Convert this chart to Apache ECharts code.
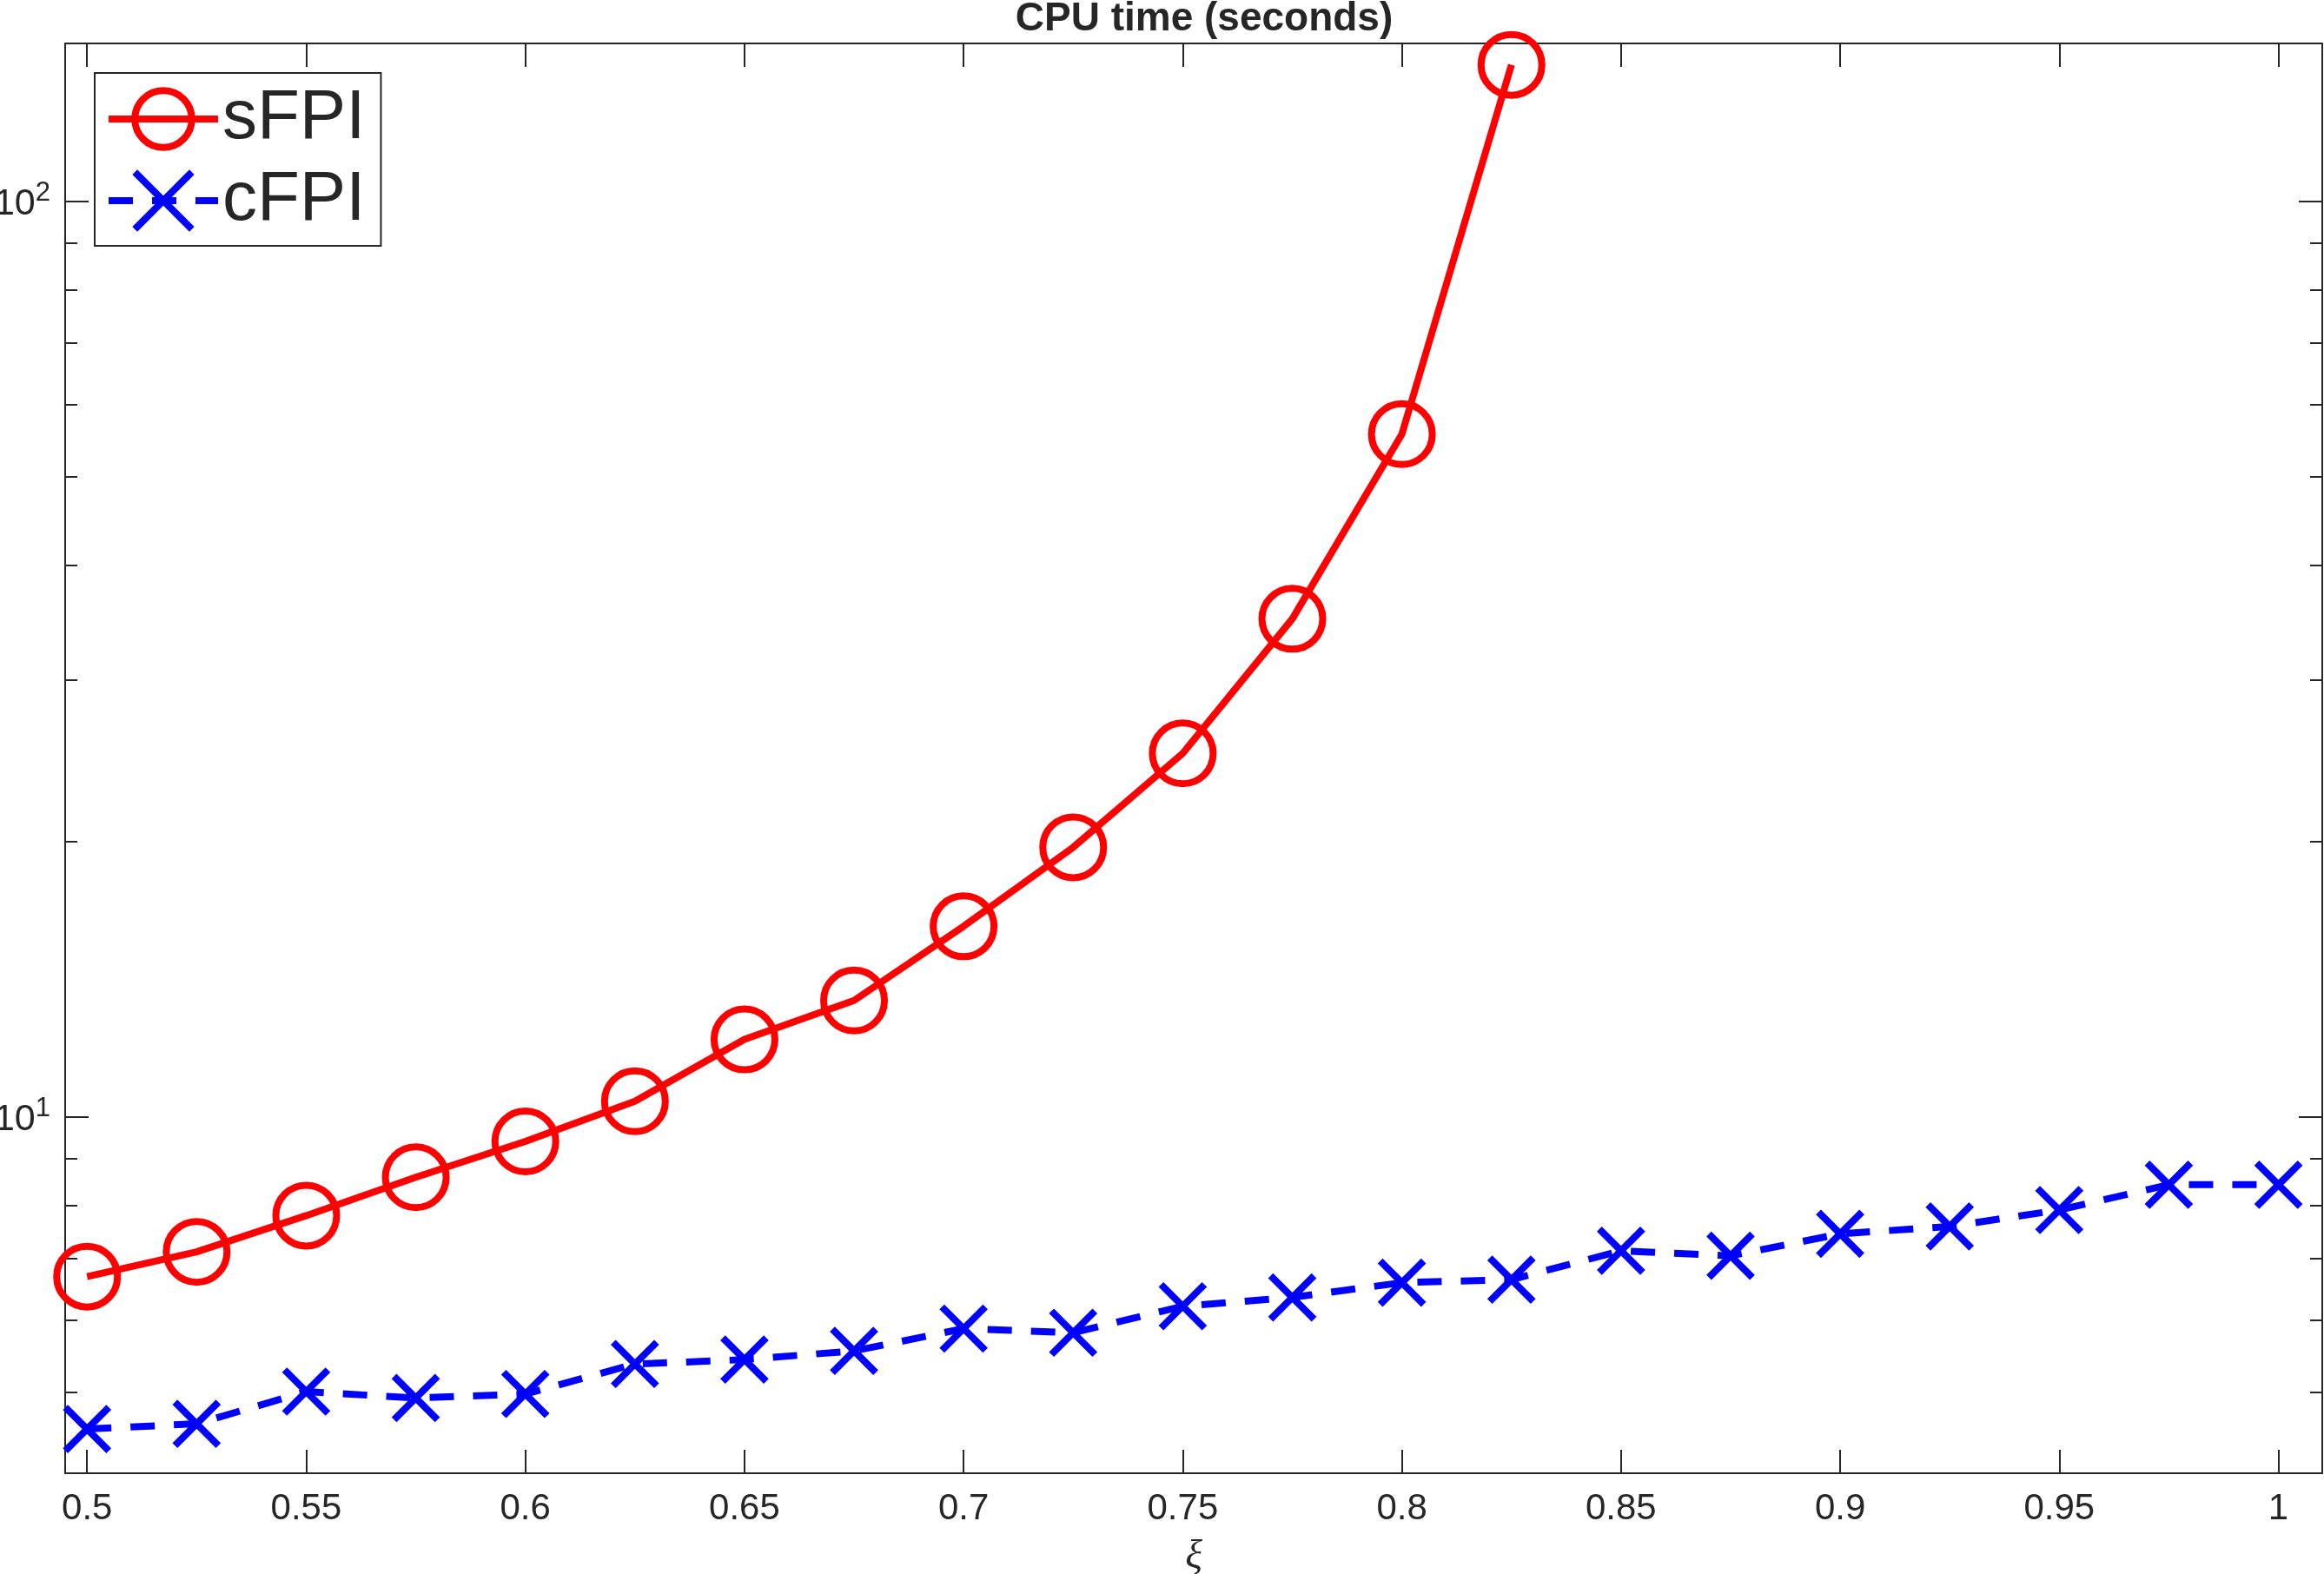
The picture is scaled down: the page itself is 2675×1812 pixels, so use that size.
<!DOCTYPE html>
<html>
<head>
<meta charset="utf-8">
<script src="https://cdn.jsdelivr.net/npm/echarts@6/dist/echarts.min.js"></script>
<style>
html,body{margin:0;padding:0;background:#fff;}
#chart{width:2675px;height:1812px;}
</style>
</head>
<body>
<div id="chart"></div>
<script>
// ---- data ----
const xi = [0.5, 0.525, 0.55, 0.575, 0.6, 0.625, 0.65, 0.675, 0.7, 0.725, 0.75,
            0.775, 0.8, 0.825, 0.85, 0.875, 0.9, 0.925, 0.95, 0.975, 1.0];
const sFPI = [6.69, 7.12, 7.80, 8.59, 9.40, 10.4, 12.15, 13.4, 16.15, 19.7, 24.95, 35.0, 55.7, 141.0];
const cFPI = [4.56, 4.62, 5.01, 4.93, 4.98, 5.37, 5.43, 5.55, 5.87, 5.81, 6.21, 6.35, 6.59, 6.64,
              7.14, 7.05, 7.45, 7.59, 7.91, 8.43, 8.43];
const xTicks = [0.5, 0.55, 0.6, 0.65, 0.7, 0.75, 0.8, 0.85, 0.9, 0.95, 1];
const yMajorTicks = [10, 100];
const yMinorTicks = [5, 6, 7, 8, 9, 20, 30, 40, 50, 60, 70, 80, 90];
const titleText = 'CPU time (seconds)';
const xName = 'ξ';
const seriesNames = ['sFPI', 'cFPI'];

const X_MIN = 0.495, X_MAX = 1.01;
const Y_MIN = 4.08, Y_MAX = 148.8;

const AX = '#262626';
const FONT = 'Liberation Sans, Arial, Helvetica, sans-serif';

const chart = echarts.init(document.getElementById('chart'), null, {renderer: 'canvas'});

function yAxisDef(position, ticks, len, showLine, showLabel) {
  return {
    type: 'log', logBase: 10, position: position, min: Y_MIN, max: Y_MAX,
    axisLine: {show: showLine, lineStyle: {color: AX, width: 2}},
    axisTick: {show: true, inside: true, length: len, customValues: ticks,
               lineStyle: {color: AX, width: 2}},
    axisLabel: showLabel ? {
      show: true, customValues: yMajorTicks, margin: 17,
      formatter: function (v) {
        const e = Math.round(Math.log10(v));
        return '{b|10}{s|' + e + '}';
      },
      rich: {
        b: {fontSize: 43, fontFamily: FONT, color: AX, padding: [6, 0, 0, 0]},
        s: {fontSize: 31, fontFamily: FONT, color: AX, padding: [0, 0, 18, 0]}
      }
    } : {show: false},
    splitLine: {show: false},
    minorTick: {show: false},
    minorSplitLine: {show: false}
  };
}

function xAxisDef(position, showLabel) {
  const a = {
    type: 'value', position: position, min: X_MIN, max: X_MAX,
    axisLine: {show: true, lineStyle: {color: AX, width: 2}},
    axisTick: {show: true, inside: true, length: 27, customValues: xTicks,
               lineStyle: {color: AX, width: 2}},
    axisLabel: showLabel ? {
      show: true, customValues: xTicks, margin: 20,
      fontSize: 42, fontFamily: FONT, color: AX
    } : {show: false},
    splitLine: {show: false}
  };
  if (showLabel) {
    a.name = xName;
    a.nameLocation = 'middle';
    a.nameGap = 74;
    a.nameTextStyle = {fontSize: 46, fontFamily: 'Liberation Serif, DejaVu Serif, serif',
                       fontStyle: 'italic', color: AX};
  }
  return a;
}

const option = {
  animation: false,
  backgroundColor: '#ffffff',
  title: {
    text: titleText, left: 1381, top: -6, textAlign: 'center',
    textStyle: {fontSize: 46, fontWeight: 'bold', fontFamily: FONT, color: AX}
  },
  grid: {left: 75, right: 2, top: 50, bottom: 116, containLabel: false, outerBoundsMode: 'none'},
  legend: {
    orient: 'vertical', left: 109, top: 84,
    padding: [13, 18, 12, 12],
    itemGap: 14, itemWidth: 126, itemHeight: 82,
    backgroundColor: '#ffffff', borderColor: AX, borderWidth: 2,
    textStyle: {fontSize: 80, fontFamily: FONT, color: AX},
    itemStyle: {borderWidth: 8},
    lineStyle: {width: 8},
    data: seriesNames
  },
  xAxis: [xAxisDef('bottom', true), xAxisDef('top', false)],
  yAxis: [
    yAxisDef('left', yMajorTicks, 27, true, true),
    yAxisDef('left', yMinorTicks, 14, false, false),
    yAxisDef('right', yMajorTicks, 27, true, false),
    yAxisDef('right', yMinorTicks, 14, false, false)
  ],
  series: [
    {
      name: seriesNames[0], type: 'line', xAxisIndex: 0, yAxisIndex: 0,
      data: sFPI.map((v, i) => [xi[i], v]),
      symbol: 'circle', symbolSize: 70, showAllSymbol: true,
      lineStyle: {color: '#ff0000', width: 8},
      itemStyle: {color: 'rgba(255,255,255,0)', borderColor: '#ff0000', borderWidth: 8},
      emphasis: {disabled: true},
      clip: false, z: 3
    },
    {
      name: seriesNames[1], type: 'line', xAxisIndex: 0, yAxisIndex: 0,
      data: cFPI.map((v, i) => [xi[i], v]),
      symbol: 'path://M0,0L10,10M10,0L0,10', symbolSize: 50, showAllSymbol: true,
      lineStyle: {color: '#0000ff', width: 8, type: [28, 22]},
      itemStyle: {color: '#0000ff', borderColor: '#0000ff', borderWidth: 8},
      emphasis: {disabled: true},
      clip: false, z: 3
    }
  ]
};
chart.setOption(option);
</script>
</body>
</html>
